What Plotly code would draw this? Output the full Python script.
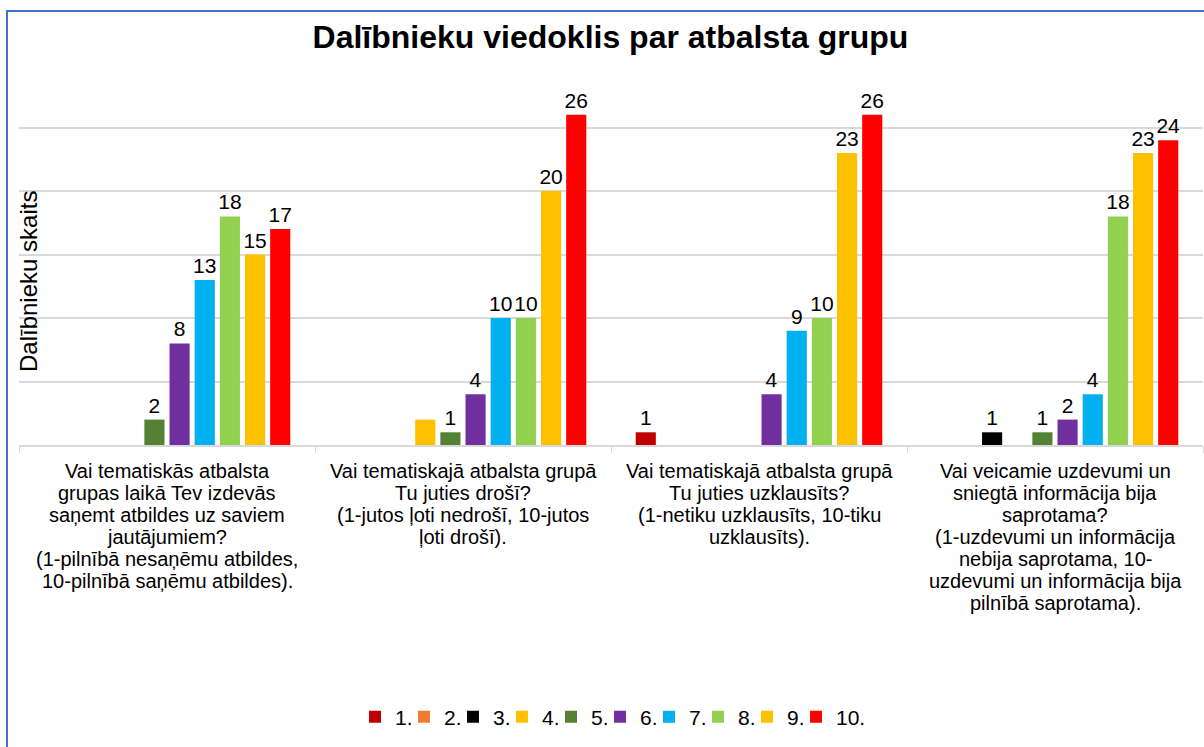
import plotly.graph_objects as go

category_keys = ["q1", "q2", "q3", "q4"]
category_lines = [
    ["Vai tematiskās atbalsta", "grupas laikā Tev izdevās", "saņemt atbildes uz saviem",
     "jautājumiem?", "(1-pilnībā nesaņēmu atbildes,", "10-pilnībā saņēmu atbildes)."],
    ["Vai tematiskajā atbalsta grupā", "Tu juties drošī?", "(1-jutos ļoti nedrošī, 10-jutos",
     "ļoti drošī)."],
    ["Vai tematiskajā atbalsta grupā", "Tu juties uzklausīts?", "(1-netiku uzklausīts, 10-tiku",
     "uzklausīts)."],
    ["Vai veicamie uzdevumi un", "sniegtā informācija bija", "saprotama?",
     "(1-uzdevumi un informācija", "nebija saprotama, 10-", "uzdevumi un informācija bija",
     "pilnībā saprotama)."],
]

series_names = ["1.", "2.", "3.", "4.", "5.", "6.", "7.", "8.", "9.", "10."]

s1 = [0, 0, 1, 0]
s2 = [0, 0, 0, 0]
s3 = [0, 0, 0, 1]
s4 = [0, 2, 0, 0]
s5 = [2, 1, 0, 1]
s6 = [8, 4, 4, 2]
s7 = [13, 10, 9, 4]
s8 = [18, 10, 10, 18]
s9 = [15, 20, 23, 23]
s10 = [17, 26, 26, 24]
values = [s1, s2, s3, s4, s5, s6, s7, s8, s9, s10]

# data labels not shown in the original: (series index, category index)
hidden_labels = [(3, 1)]

colors = ["#C00000", "#ED7D31", "#000000", "#FFC000", "#548235",
          "#7030A0", "#00B0F0", "#92D050", "#FFC000", "#FF0000"]

FONT = "Liberation Sans, Arial, sans-serif"

fig = go.Figure()
for i, (name, vals, col) in enumerate(zip(series_names, values, colors)):
    text = []
    for j, v in enumerate(vals):
        if v == 0 or (i, j) in hidden_labels:
            text.append("")
        else:
            text.append(str(v))
    fig.add_trace(go.Bar(
        name=name, x=category_keys, y=vals, marker=dict(color=col, line=dict(width=0)),
        text=text, textposition="outside", constraintext="none", cliponaxis=False,
        textfont=dict(family=FONT, size=21, color="#000000"),
        hoverinfo="y+name",
    ))

# spacer legend entry so the last legend label is not clipped
fig.add_trace(go.Scatter(x=[None], y=[None], mode="markers", name=" ",
                         marker=dict(color="rgba(0,0,0,0)", size=1), hoverinfo="skip"))

W, H = 1204, 747
ml, mr, mt, mb = 19, 1, 96, 302
pw = W - ml - mr
ph = H - mt - mb

def px_x(p):
    return (p - ml) / pw

def px_y(p):
    return (H - mb - p) / ph

fig.update_layout(
    width=W, height=H,
    margin=dict(l=ml, r=mr, t=mt, b=mb),
    paper_bgcolor="white", plot_bgcolor="white",
    barmode="group", bargap=0.15, bargroupgap=0.2,
    title=dict(text="<b>Dalībnieku viedoklis par atbalsta grupu</b>",
               x=0.507, xanchor="center", y=1 - 37 / H, yanchor="middle",
               yref="container", font=dict(family=FONT, size=32, color="#000000")),
    font=dict(family=FONT, color="#000000"),
    xaxis=dict(type="category", showline=True, linecolor="#D9D9D9", linewidth=1.5,
               ticks="outside", tickson="boundaries", ticklen=6, tickcolor="#D9D9D9",
               showticklabels=False, showgrid=False),
    yaxis=dict(range=[0, 27.48], dtick=5, showgrid=True, gridcolor="#D9D9D9",
               gridwidth=1.5, showticklabels=False, zeroline=False, ticks=""),
    showlegend=True,
    legend=dict(orientation="h", x=px_x(355), xanchor="left", y=px_y(717), yanchor="middle",
                font=dict(family=FONT, size=21, color="#000000"),
                entrywidth=4, entrywidthmode="pixels", itemwidth=30,
                traceorder="normal", bgcolor="rgba(0,0,0,0)"),
)

# category labels, one annotation per line (Excel-like tight line spacing)
for key, lines in zip(category_keys, category_lines):
    for k, line in enumerate(lines):
        fig.add_annotation(
            text=line, xref="x", yref="paper", x=key, y=0, yshift=-(26 + 22 * k),
            xanchor="center", yanchor="middle", showarrow=False,
            font=dict(family=FONT, size=20, color="#000000"),
        )

fig.add_annotation(
    text="Dalībnieku skaits", textangle=-90, xref="paper", yref="paper",
    x=px_x(28), y=px_y(282), xanchor="center", yanchor="middle", showarrow=False,
    font=dict(family=FONT, size=24, color="#000000"),
)

fig.add_shape(type="rect", xref="paper", yref="paper",
              x0=px_x(7), x1=px_x(1215), y0=px_y(760), y1=px_y(11),
              line=dict(color="#4472C4", width=2), fillcolor="rgba(0,0,0,0)", layer="above")

fig.write_html("out.html", config={"displayModeBar": False},
               post_script="document.body.style.margin='0';document.body.style.overflow='hidden';")
